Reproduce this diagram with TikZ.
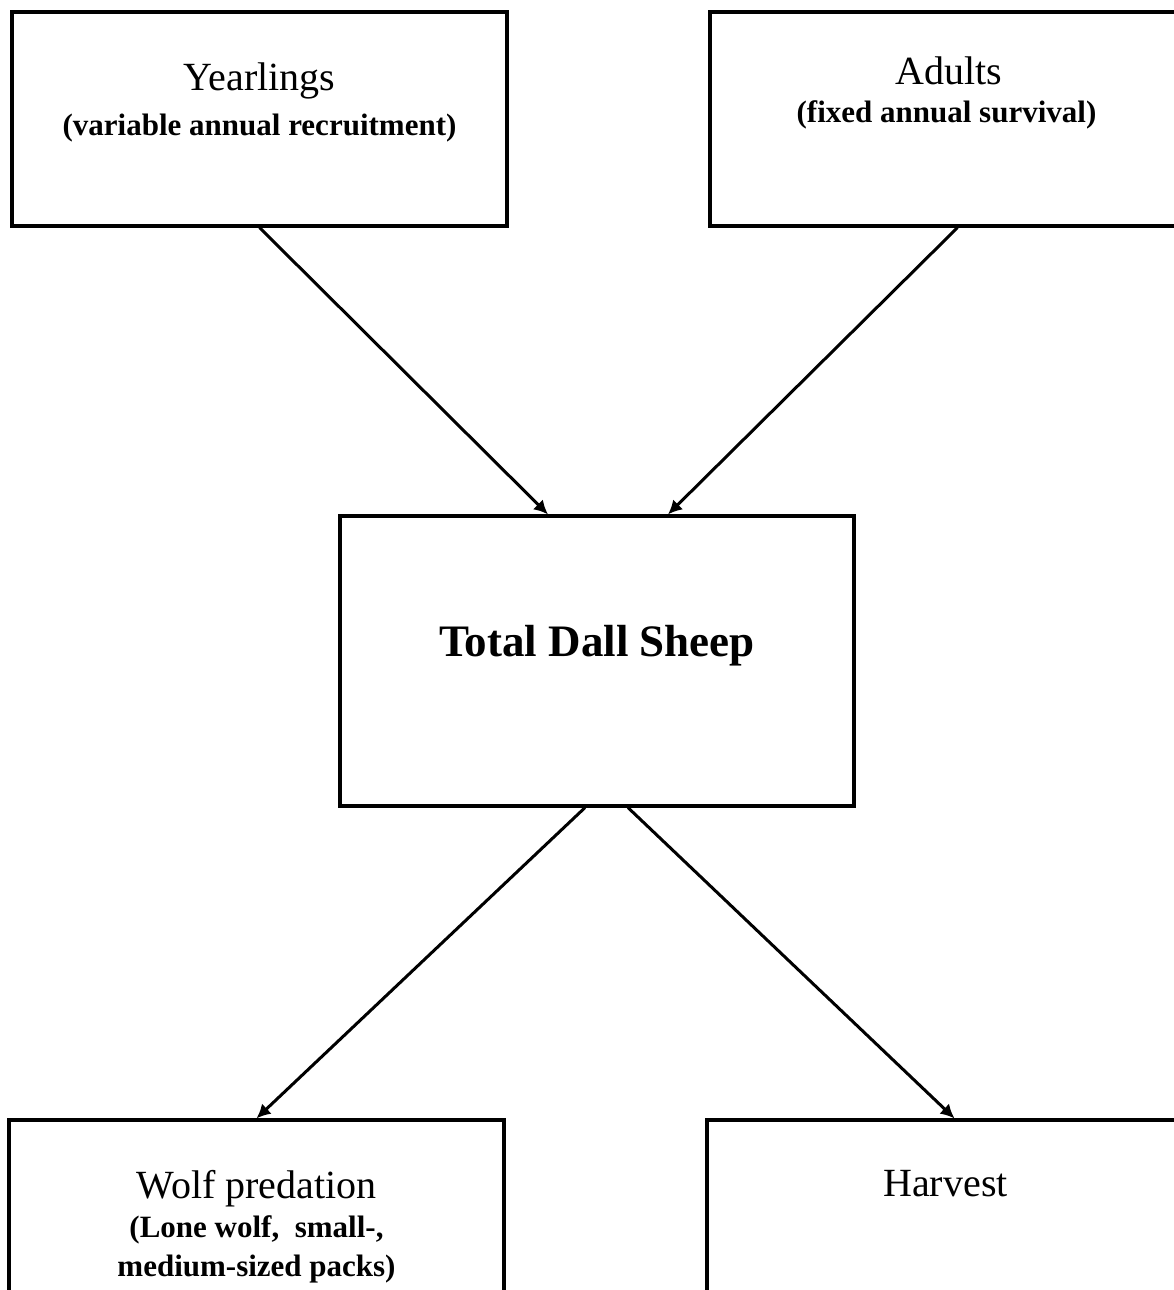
\documentclass[tikz,border=0pt]{standalone}
\usepackage{fontspec}
\setmainfont{Liberation Serif}
\usetikzlibrary{positioning,arrows.meta}

\tikzset{
  box/.style={draw,line width=3.2pt,minimum width=495pt,minimum height=214pt,inner sep=0pt},
  ttl/.style={anchor=base,inner sep=0pt,font=\fontsize{40}{40}\selectfont},
  sub/.style={anchor=base,inner sep=0pt,font=\bfseries\fontsize{31}{31}\selectfont},
  flow/.style={line width=3pt,-{Latex[length=14pt,width=14pt]}},
}

\begin{document}
\begin{tikzpicture}[x=1pt,y=-1pt]
  \useasboundingbox (0,0) rectangle (1174,1290);
  \clip (0,0) rectangle (1174,1290);

  \node[box] (yearl) at (259.5,119) {};
  \node[box] (adult) at (957.5,119) {};
  \node[box,minimum width=514pt,minimum height=290pt] (total) at (597,661) {};
  \node[box] (wolf) at (256.5,1227) {};
  \node[box] (harv) at (954.5,1227) {};

  \node[ttl] (yearlt) at ([yshift=-80pt]yearl.north) {Yearlings};
  \node[sub] (yearls) at ([yshift=-125pt]yearl.north) {(variable annual recruitment)};
  \node[ttl] (adultt) at ([xshift=-9pt,yshift=-74pt]adult.north) {Adults};
  \node[sub] (adults) at ([xshift=-11pt,yshift=-112pt]adult.north) {(fixed annual survival)};
  \node[anchor=base,inner sep=0pt,font=\bfseries\fontsize{45}{45}\selectfont] (totalt)
    at ([yshift=-142pt]total.north) {Total Dall Sheep};
  \node[ttl] (wolft) at ([yshift=-80pt]wolf.north) {Wolf predation};
  \node[sub] (wolfs1) at ([yshift=-119pt]wolf.north) {(Lone wolf,\ \ small-,};
  \node[sub] (wolfs2) at ([yshift=-158pt]wolf.north) {medium-sized packs)};
  \node[ttl] (harvt) at ([xshift=-9pt,yshift=-78pt]harv.north) {Harvest};

  \draw[flow] (yearl.south) -- ([xshift=-49pt]total.north);
  \draw[flow] (adult.south) -- ([xshift=71pt]total.north);
  \draw[flow] ([xshift=-12pt]total.south) -- (wolf.north);
  \draw[flow] ([xshift=31pt]total.south) -- (harv.north);
\end{tikzpicture}
\end{document}
